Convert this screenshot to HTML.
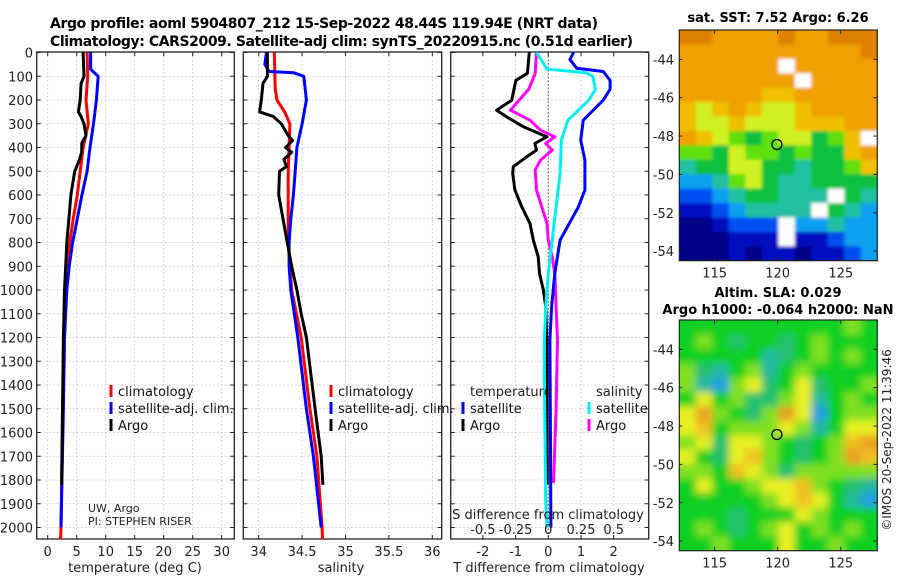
<!DOCTYPE html>
<html><head><meta charset="utf-8">
<style>
html,body{margin:0;padding:0;background:#fff;}
svg{display:block;font-family:"DejaVu Sans","Liberation Sans",sans-serif;}
</style></head>
<body>
<svg id="fig" width="900" height="580" viewBox="0 0 900 580" xmlns="http://www.w3.org/2000/svg">
<defs>
<filter id="blurSla" x="-5%" y="-5%" width="110%" height="110%"><feGaussianBlur stdDeviation="4"/></filter>
<filter id="blurSst" x="-5%" y="-5%" width="110%" height="110%"><feGaussianBlur stdDeviation="1.5"/></filter>
<clipPath id="clipMap1"><rect x="679.3" y="30" width="198" height="230.7"/></clipPath>
<clipPath id="clipMap2"><rect x="679.3" y="320" width="198" height="230.7"/></clipPath>
</defs>
<text x="50" y="28" font-size="14" font-weight="bold" textLength="548">Argo profile: aoml 5904807_212 15-Sep-2022 48.44S 119.94E (NRT data)</text>
<text x="50" y="46" font-size="14" font-weight="bold" textLength="583">Climatology: CARS2009. Satellite-adj clim: synTS_20220915.nc (0.51d earlier)</text>
<text x="778" y="22" font-size="13" font-weight="bold" text-anchor="middle">sat. SST: 7.52 Argo: 6.26</text>
<text x="778" y="297" font-size="13" font-weight="bold" text-anchor="middle">Altim. SLA: 0.029</text>
<text x="778" y="314" font-size="13" font-weight="bold" text-anchor="middle">Argo h1000: -0.064 h2000: NaN</text>
<text transform="translate(891,440) rotate(-90)" font-size="12" text-anchor="middle" fill="#222">©IMOS 20-Sep-2022 11:39:46</text>
<g id="layer"></g>
</svg>
<script>
// ---- profile data ----
const tempClimDepth=[0,100,200,300,400,500,600,700,800,900,1000,1200,1500,2000,2050];
const tempClimVal=[6.8,6.9,6.6,7.0,6.1,5.6,5.1,4.4,3.8,3.45,3.2,2.9,2.6,2.3,2.2];
const tempSatDepth=[0,70,100,200,300,400,500,600,700,800,900,1000,1200,1500,2000];
const tempSatVal=[7.4,7.4,8.7,8.4,7.9,7.3,6.8,5.9,5.1,4.3,3.7,3.3,2.9,2.7,2.3];
const tempArgoDepth=[0,100,130,200,250,270,300,350,380,420,450,480,500,600,700,800,900,1000,1200,1500,1820];
const tempArgoVal=[6.1,6.25,5.75,5.6,5.3,5.75,6.25,6.6,5.9,5.85,5.5,5.0,4.65,4.0,3.65,3.3,3.1,2.9,2.7,2.55,2.4];

const salClimDepth=[0,150,200,250,300,500,800,1000,1200,1500,1700,2000,2050];
const salClimVal=[34.18,34.19,34.21,34.30,34.36,34.34,34.34,34.38,34.49,34.59,34.67,34.73,34.735];
const salSatDepth=[0,50,80,85,100,200,300,400,500,600,700,800,900,1000,1200,1500,1700,2000];
const salSatVal=[34.09,34.07,34.12,34.40,34.52,34.55,34.50,34.44,34.42,34.40,34.37,34.35,34.35,34.37,34.45,34.55,34.63,34.72];
const salArgoDepth=[0,100,130,200,250,270,300,350,370,400,420,450,480,500,600,700,800,900,1000,1100,1200,1500,1700,1820];
const salArgoVal=[34.10,34.10,34.05,34.03,34.01,34.17,34.26,34.34,34.39,34.31,34.38,34.29,34.32,34.24,34.23,34.28,34.33,34.38,34.44,34.49,34.55,34.65,34.72,34.74];

const dTSatDepth=[0,30,66,80,117,155,201,285,369,453,579,650,790,930,1071,1211,1500,2000];
const dTSatVal=[0.77,0.66,0.87,1.68,1.89,1.89,1.68,1.07,0.99,1.12,1.12,0.92,0.36,0.2,0.1,0.05,0.06,0.08];
const dTArgoDepth=[0,88,117,201,243,271,313,355,383,411,439,481,509,579,650,720,790,860,930,1000,1071,1211,1500,1820];
const dTArgoVal=[-0.58,-0.64,-0.99,-1.12,-1.58,-1.27,-0.76,-0.05,-0.41,-0.36,-0.66,-1.07,-1.09,-1.02,-0.81,-0.56,-0.46,-0.31,-0.27,-0.15,-0.08,-0.05,-0.04,-0.03];
const dSSatDepth=[0,70,85,100,155,201,285,369,509,650,790,930,1071,1211,1379,1880,2000];
const dSSatVal=[-0.09,-0.01,0.29,0.34,0.36,0.31,0.15,0.10,0.09,0.06,0.03,0.0,-0.02,-0.03,-0.03,-0.02,-0.01];
const dSArgoDepth=[0,88,155,243,285,327,355,383,411,453,495,579,650,720,790,860,930,1071,1211,1500,1813];
const dSArgoVal=[-0.09,-0.10,-0.15,-0.29,-0.14,-0.06,0.05,-0.02,0.03,-0.06,-0.10,-0.09,-0.05,-0.01,0.0,0.03,0.05,0.06,0.07,0.06,0.04];

const depthTicks=[0,100,200,300,400,500,600,700,800,900,1000,1100,1200,1300,1400,1500,1600,1700,1800,1900,2000];
const tempTicks=[0,5,10,15,20,25,30];
const salTicks=[34,34.5,35,35.5,36];
const salTickLabels=["34","34.5","35","35.5","36"];
const dTTicks=[-2,-1,0,1,2];
const dSTicks=[-0.5,-0.25,0,0.25,0.5];
const dSTickLabels=["-0.5","-0.25","0","0.25","0.5"];

// ---- map data (value grid rows top->bottom) ----
const sstGrid=[
[10,10,9,9,9,9,10,9,9,10,10,10],
[9,9,9,9,9,9,9,9,9,9,9,10],
[9,9,9,9,9,9,-1,9,9,9,9,9],
[9,9,9,9,9,9,9,-1,9,9,9,9],
[9,9,9,9,9,8,8,9,9,9,9,9],
[8,7,8,9,8,7,7,8,9,9,9,9],
[8,7,7,8,7,7,7,8,8,8,9,9],
[9,8,7,6,5,6,7,7,5,6,8,-1],
[6,6,5,7,6,6,5,6,5,5,8,9],
[4,5,5,7,7,5,5,4,5,5,6,8],
[3,3,4,6,7,5,4,4,5,5,5,5],
[2,2,3,4,5,5,4,4,4,-1,5,4],
[1,1,2,3,4,4,4,4,-1,5,4,3],
[0,0,1,2,2,2,-1,3,3,4,3,3],
[0,0,0,1,1,1,-1,1,1,2,3,3],
[0,0,0,1,0,1,1,0,1,1,2,3]];
const slaGrid=[
[3,3,3,3,3,3,3,3,3,3,4,3],
[3,4,3,2,3,3,2,3,4,3,3,3],
[3,3,3,3,3,1,2,3,4,3,4,3],
[4,2,1,3,4,1,3,4,3,3,3,3],
[4,1,0,4,5,2,3,5,2,3,3,4],
[3,5,3,4,2,2,4,5,1,3,4,3],
[5,7,4,3,2,4,7,5,0,3,4,4],
[5,6,3,4,4,4,5,4,1,3,5,5],
[4,5,2,5,5,4,3,2,3,4,6,7],
[5,3,2,5,6,4,3,2,3,4,7,6],
[4,4,3,6,5,4,2,4,4,4,4,4],
[3,5,3,3,4,5,5,6,4,3,2,1],
[3,3,3,3,3,4,5,6,5,3,1,0],
[3,3,3,2,3,3,3,5,4,3,3,3],
[3,4,3,2,3,4,5,3,4,3,4,3],
[3,3,4,3,3,3,5,3,3,4,3,3]];
const argoLon=119.94, argoLat=-48.44;
const latTicks=[-44,-46,-48,-50,-52,-54];
const lonTicks=[115,120,125];

const NS="http://www.w3.org/2000/svg";
const layer=document.getElementById('layer');
function mk(tag,attrs,parent){const e=document.createElementNS(NS,tag);for(const k in attrs)e.setAttribute(k,attrs[k]);(parent||layer).appendChild(e);return e;}

const Y0=52.5, YS=0.2375, YB=539;
const yD=d=>Y0+d*YS;

function panel(name,x0,x1,xs,xTicks,xLabels,drawLeftLabels){
  const g=mk('g',{});
  
  
  depthTicks.forEach(d=>{const l=mk('line',{x1:x0,x2:x1,y1:yD(d),y2:yD(d),stroke:'#c4c8e4','stroke-width':0.8,'stroke-dasharray':'2,2'},g);
    mk('line',{x1:x0,x2:x0+4,y1:yD(d),y2:yD(d),stroke:'#222'},g);mk('line',{x1:x1-4,x2:x1,y1:yD(d),y2:yD(d),stroke:'#222'},g);});
  xTicks.forEach((v,i)=>{const X=xs(v);const l=mk('line',{x1:X,x2:X,y1:Y0-0.5,y2:YB,stroke:'#c4c8e4','stroke-width':0.8,'stroke-dasharray':'2,2'},g);
    mk('line',{x1:X,x2:X,y1:YB-4,y2:YB,stroke:'#222'},g);mk('line',{x1:X,x2:X,y1:Y0-0.5,y2:Y0+3.5,stroke:'#222'},g);
    if(xLabels){const t=mk('text',{x:X,y:556,'font-size':13,'text-anchor':'middle',fill:'#222'},g);t.textContent=xLabels[i];}});
  const r=mk('rect',{x:x0,y:Y0-0.5,width:x1-x0,height:YB-Y0+0.5,fill:'none',stroke:'#222','stroke-width':1.3},g);
  
  if(drawLeftLabels){depthTicks.forEach(d=>{const t=mk('text',{x:33,y:yD(d)+5,'font-size':13,'text-anchor':'end',fill:'#222'},g);t.textContent=d;});}
  return g;
}
function series(g,name,depths,vals,xs,color){
  let d='';depths.forEach((dd,i)=>{d+=(i?'L':'M')+xs(vals[i]).toFixed(1)+','+yD(dd).toFixed(1);});
  const p=mk('path',{d:d,fill:'none',stroke:color,'stroke-width':3,'stroke-linejoin':'round'},g);
  
  
}
function legend(g,x,y,color,label,name){
  const r=mk('rect',{x:x-1.5,y:y-7,width:3,height:12,fill:color},g);
  
  const t=mk('text',{x:x+7,y:y+4,'font-size':13,fill:'#111'},g);t.textContent=label;
  
}
function lbl(g,x,y,txt,name,size,anchor){const t=mk('text',{x:x,y:y,'font-size':size||13,'text-anchor':anchor||'middle',fill:'#222'},g);t.textContent=txt;return t;}

// Panel 1: temperature
const xT=v=>47.7+5.8*v;
const g1=panel('temperature-panel',36.7,234.3,xT,tempTicks,tempTicks.map(String),true);
series(g1,'temp-climatology-line',tempClimDepth,tempClimVal,xT,'#ff0000');
series(g1,'temp-satellite-line',tempSatDepth,tempSatVal,xT,'#0000ff');
series(g1,'temp-argo-line',tempArgoDepth,tempArgoVal,xT,'#000000');
legend(g1,111,392,'#ff0000','climatology','legend-climatology');
legend(g1,111,409,'#0000ff','satellite-adj. clim.','legend-satellite-adj');
legend(g1,111,426,'#000000','Argo','legend-argo');
lbl(g1,88,512,'UW, Argo','credit-uw-argo',11,'start');
lbl(g1,88,525,'PI: STEPHEN RISER','credit-pi',11,'start');
lbl(g1,135,572,'temperature (deg C)','x-axis-title-temperature',13);

// Panel 2: salinity
const xS=v=>258.7+86.8*(v-34);
const g2=panel('salinity-panel',243.3,441.7,xS,salTicks,salTickLabels,false);
series(g2,'sal-climatology-line',salClimDepth,salClimVal,xS,'#ff0000');
series(g2,'sal-satellite-line',salSatDepth,salSatVal,xS,'#0000ff');
series(g2,'sal-argo-line',salArgoDepth,salArgoVal,xS,'#000000');
legend(g2,331,392,'#ff0000','climatology','legend-climatology-s');
legend(g2,331,409,'#0000ff','satellite-adj. clim.','legend-satellite-adj-s');
legend(g2,331,426,'#000000','Argo','legend-argo-s');
lbl(g2,341,572,'salinity','x-axis-title-salinity',13);

// Panel 3: differences
const xdT=v=>548.3+32.7*v;
const xdS=v=>548.3+130.8*v;
const g3=panel('difference-panel',450.7,648.7,xdT,dTTicks,dTTicks.map(String),false);
const zl=mk('line',{x1:xdT(0),x2:xdT(0),y1:Y0,y2:YB,stroke:'#555533','stroke-width':1,'stroke-dasharray':'1.5,2'},g3);

series(g3,'dT-argo-line',dTArgoDepth,dTArgoVal,xdT,'#000000');
series(g3,'dS-argo-line',dSArgoDepth,dSArgoVal,xdS,'#ff00ff');
series(g3,'dS-satellite-line',dSSatDepth,dSSatVal,xdS,'#00f0f0');
series(g3,'dT-satellite-line',dTSatDepth,dTSatVal,xdT,'#0000ff');
lbl(g3,470,396,'temperature','legend-temperature-header',13,'start');
lbl(g3,596,396,'salinity','legend-salinity-header',13,'start');
legend(g3,463,409,'#0000ff','satellite','legend-t-satellite');
legend(g3,463,426,'#000000','Argo','legend-t-argo');
legend(g3,589,409,'#00f0f0','satellite','legend-s-satellite');
legend(g3,589,426,'#ff00ff','Argo','legend-s-argo');
lbl(g3,548,519,'S difference from climatology','s-axis-title',13);
dSTicks.forEach((v,i)=>lbl(g3,xdS(v),534,dSTickLabels[i],'s-tick-label',13));
lbl(g3,549,572,'T difference from climatology','x-axis-title-dT',13);

// Maps
const MX0=679.3, MX1=877.3, LON0=112.2, LON1=127.9, LAT0=-42.47, LAT1=-54.5;
const sstPal={'-1':'#ffffff',0:'#000088',1:'#0010c0',2:'#0050f0',3:'#10a0f0',4:'#20c0a0',5:'#10c040',6:'#60e010',7:'#d0f020',8:'#f0c000',9:'#f0a000',10:'#e08000'};
const slaPal={0:'#20a0e0',1:'#20b8a0',2:'#20c070',3:'#10d020',4:'#80e020',5:'#e8f020',6:'#f0c020',7:'#e8a020'};
function map(name,top,grid,pal,clipId,filterId){
  const H=230.7, W=MX1-MX0;
  const g=mk('g',{});
  const lonX=l=>MX0+(l-LON0)/(LON1-LON0)*W;
  const latY=l=>top+(LAT0-l)/(LAT0-LAT1)*H;
  const cg=mk('g',{'clip-path':'url(#'+clipId+')'},g);
  
  const bg=mk('g',{filter:'url(#'+filterId+')'},cg);
  const rows=grid.length, cols=grid[0].length;
  const pad=(r,c)=>grid[Math.max(0,Math.min(rows-1,r))][Math.max(0,Math.min(cols-1,c))];
  for(let ri=-1;ri<=rows;ri++)for(let ci=-1;ci<=cols;ci++){
    const v=pad(ri,ci);
    const c=mk('rect',{x:(MX0+ci*W/cols).toFixed(2),y:(top+ri*H/rows).toFixed(2),width:(W/cols+0.6).toFixed(2),height:(H/rows+0.6).toFixed(2),fill:pal[v]},bg);
    
    
  }
  const f=mk('rect',{x:MX0,y:top,width:W,height:H,fill:'none',stroke:'#222','stroke-width':1.2},g);
  
  latTicks.forEach(l=>{const Y=latY(l);mk('line',{x1:MX1-4,x2:MX1,y1:Y,y2:Y,stroke:'#222'},g);mk('line',{x1:MX0,x2:MX0+3,y1:Y,y2:Y,stroke:'#222'},g);
    lbl(g,674,Y+5,String(l),'lat-tick-label',13,'end');});
  lonTicks.forEach(l=>{const X=lonX(l);mk('line',{x1:X,x2:X,y1:top+H-4,y2:top+H,stroke:'#222'},g);mk('line',{x1:X,x2:X,y1:top,y2:top+4,stroke:'#222'},g);
    lbl(g,X,top+H+17,String(l),'lon-tick-label',13);});
  const c=mk('circle',{cx:lonX(argoLon),cy:latY(argoLat),r:5,fill:'none',stroke:'#000','stroke-width':1.3},g);
  
}
map('sst-map',30,sstGrid,sstPal,'clipMap1','blurSst');
map('sla-map',320,slaGrid,slaPal,'clipMap2','blurSla');
</script>
</body></html>
